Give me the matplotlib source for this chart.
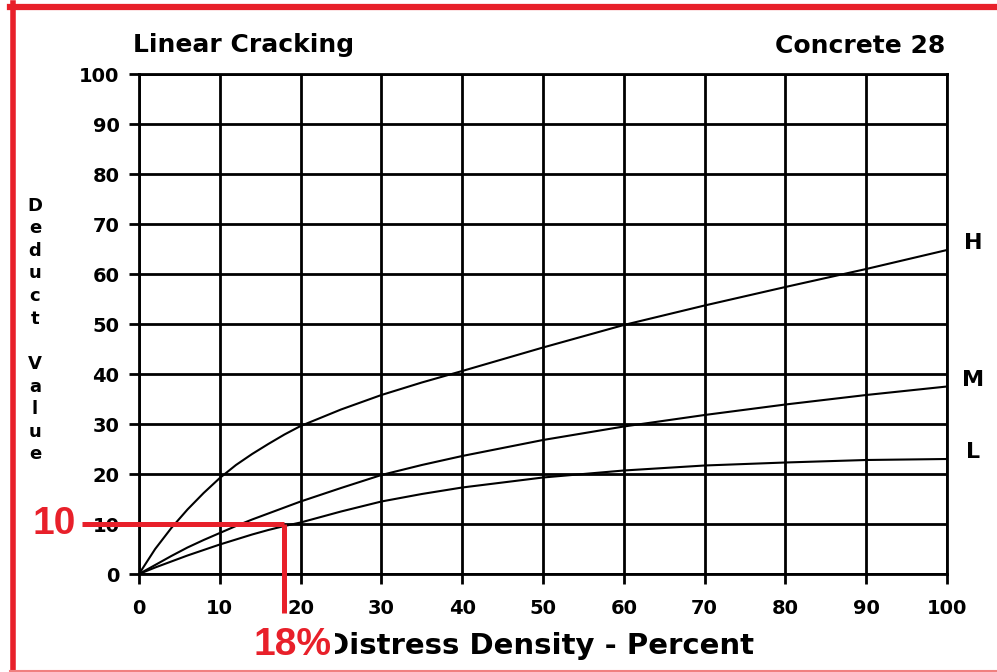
import numpy as np
import matplotlib
matplotlib.use("Agg")
import matplotlib.pyplot as plt
from matplotlib.lines import Line2D

# Deduct value curves for linear cracking, by severity level
density = [0, 2, 4, 6, 8, 10, 12, 14, 16, 18, 20, 25, 30, 35, 40, 50, 60, 70, 80, 90, 100]
deduct_high = [0, 5.0, 9.2, 12.9, 16.2, 19.2, 21.8, 24.0, 26.0, 27.9, 29.6, 32.9, 35.8,
               38.3, 40.6, 45.3, 49.8, 53.7, 57.4, 61.0, 64.8]
deduct_med = [0, 1.8, 3.6, 5.3, 6.8, 8.2, 9.6, 10.9, 12.1, 13.3, 14.5, 17.2, 19.8,
              21.8, 23.6, 26.8, 29.5, 31.8, 33.9, 35.8, 37.5]
deduct_low = [0, 1.3, 2.5, 3.7, 4.8, 5.9, 6.9, 7.9, 8.8, 9.6, 10.3, 12.5, 14.5,
              16.0, 17.3, 19.3, 20.7, 21.7, 22.3, 22.8, 23.0]
severity = ["H", "M", "L"]

# worked example
ex_density = 18
ex_deduct = 10

ticks = list(range(0, 101, 10))
RED = "#e8202a"

W, H = 997, 672
fig = plt.figure(figsize=(W / 100, H / 100), dpi=100)
ax = fig.add_axes([139 / W, 1 - 574 / H, (947 - 139) / W, (574 - 74) / H])

for ys in (deduct_high, deduct_med, deduct_low):
    ax.plot(density, ys, color="black", lw=1.5, zorder=3,
            solid_joinstyle="round")

ax.set_xlim(0, 100)
ax.set_ylim(0, 100)
ax.set_xticks(ticks)
ax.set_yticks(ticks)
ax.grid(True, color="black", lw=2.0)
for s in ax.spines.values():
    s.set_linewidth(2.0)
ax.tick_params(axis="both", direction="out", width=2.0, length=7,
               labelsize=14, colors="black")
ax.tick_params(axis="x", pad=11)
ax.tick_params(axis="y", pad=7)
for lab in ax.get_xticklabels() + ax.get_yticklabels():
    lab.set_fontweight("bold")

ax.text(-0.8, 104.4, "Linear Cracking", fontsize=18, fontweight="bold",
        ha="left", va="baseline", clip_on=False)
ax.text(99.8, 104.2, "Concrete 28", fontsize=18, fontweight="bold",
        ha="right", va="baseline", clip_on=False)
ax.text(49.6, -16.0, "Distress Density - Percent", fontsize=21, fontweight="bold",
        ha="center", va="baseline", clip_on=False)
fig.text(35 / W, 1 - 330 / H, "\n".join("Deduct Value"), fontsize=13,
         fontweight="bold", ha="center", va="center", linespacing=1.33)

# severity labels at the right end of each curve
for lab, ys in zip(severity, (deduct_high, deduct_med, deduct_low)):
    ax.text(103.2, ys[-1] + 1.4, lab, fontsize=16, fontweight="bold",
            ha="center", va="center", clip_on=False)

# worked example: density -> deduct value
ax.plot([-7.0, ex_density], [ex_deduct, ex_deduct], color=RED, lw=3.6,
        clip_on=False, zorder=5, solid_capstyle="butt")
ax.plot([ex_density, ex_density], [ex_deduct, -7.8], color=RED, lw=3.6,
        clip_on=False, zorder=5, solid_capstyle="butt")
ax.text(-7.8, ex_deduct, f"{ex_deduct}", color=RED, fontsize=28,
        fontweight="bold", family="Liberation Sans", ha="right", va="center",
        clip_on=False)
ax.text(ex_density + 1.0, -14.2, f"{ex_density}%", color=RED, fontsize=28,
        fontweight="bold", family="Liberation Sans", ha="center", va="center",
        clip_on=False, zorder=6,
        bbox=dict(boxstyle="square,pad=0.08", fc="white", ec="none"))

# red frame around the figure
def px(x, y):
    return x / W, 1 - y / H

for (x0, y0), (x1, y1), lw, c in [
    ((10, 6.5), (W, 6.5), 4.5, RED),
    ((12.5, 3), (12.5, H), 4.0, RED),
    ((10, 670.5), (W, 670.5), 1.5, "#f08080"),
]:
    a, b = px(x0, y0)
    c2, d = px(x1, y1)
    fig.add_artist(Line2D([a, c2], [b, d], color=c, lw=lw,
                          transform=fig.transFigure))

fig.savefig("out.png", dpi=100)
